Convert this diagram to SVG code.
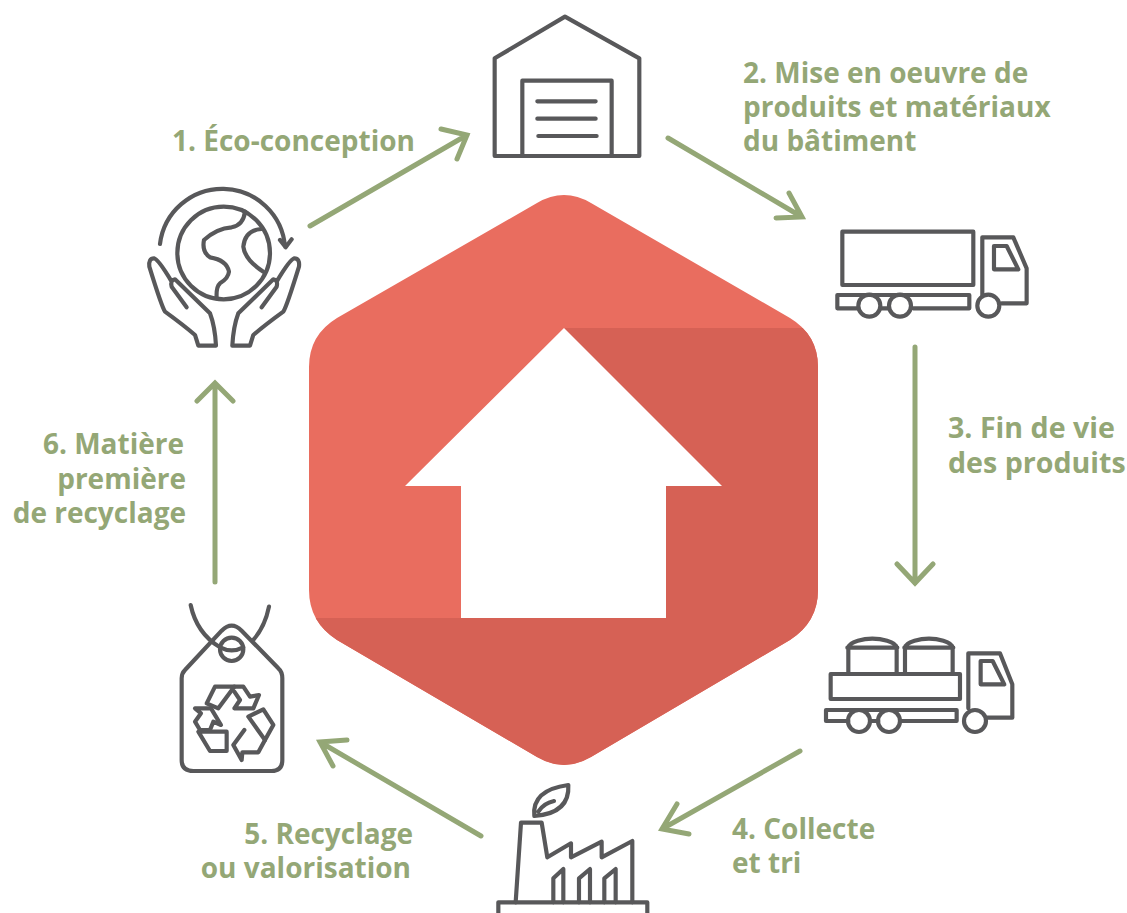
<svg xmlns="http://www.w3.org/2000/svg" width="1127" height="913" viewBox="0 0 1127 913">
<style>
.t{font-family:"Open Sans","Liberation Sans",sans-serif;font-weight:700;font-size:28px;fill:#94a776}
.w{font-size:28.6px}
.e{text-anchor:end}
.i{fill:none;stroke:#58585a;stroke-width:12.5;stroke-linecap:round;stroke-linejoin:round}
.c{fill:none;stroke:#94a776;stroke-width:5;stroke-linecap:round;stroke-linejoin:miter}
</style>
<defs>
<path id="hex" d="M537,203 Q564,187 591,203 L790,318 Q818,335 818,367 L818,590 Q818,622 790,640 L591,757 Q564,773 537,757 L337,640 Q309,622 309,590 L309,367 Q309,335 337,318 Z"/>
<clipPath id="hc"><use href="#hex"/></clipPath>
</defs>
<rect width="1127" height="913" fill="#fff"/>
<g id="center">
<use href="#hex" fill="#e96d5f"/>
<polygon clip-path="url(#hc)" points="564,328 830,328 830,780 300,780 300,618 564,618" fill="#d66155"/>
<polygon points="564,328 722,486 666,486 666,618 461,618 461,486 405,486" fill="#fff"/>
</g>
<g id="connectors" class="c">
<path d="M310,226 L467,135 M441,129 L467,135 L457,159"/>
<path d="M668,138 L802,217 M776,218 L802,217 L789,193"/>
<path d="M915,347 L915,583 M897,564 L915,583 L933,564"/>
<path d="M800,751 L662,829 M677,804 L662,829 L689,834"/>
<path d="M481,836 L320,742 M347,740 L320,742 L333,766"/>
<path d="M215,582 L215,383 M197,401 L215,383 L233,401"/>
</g>
<g id="node-1" class="i" transform="translate(130,170) scale(.3333)">
<circle cx="281" cy="249" r="139"/>
<path d="M90,222 A188.500,188.500 0 0 1 465,230 M450,210 L467,232 L485,208"/>
<path d="M345,125 Q340,165 305,172 Q260,175 222,210 Q215,245 240,262 Q290,270 297,305 Q295,325 270,340 Q258,350 260,385"/>
<path d="M395,177 Q345,180 340,230 Q345,270 400,305"/>
<path d="M170,412 L125,350 Q120,330 135,328 L240,430 Q255,470 258,527 L205,527 L195,495 Q160,465 105,425 Q95,410 58,290 Q55,265 72,265 Q85,268 125,335"/>
<path d="M395,412 L440,350 Q445,330 430,328 L325,430 Q310,470 307,527 L360,527 L370,495 Q405,465 460,425 Q470,410 507,290 Q510,265 493,265 Q480,268 440,335"/>
</g>
<g id="node-2" class="i" transform="translate(480,0) scale(.3333)">
<path d="M44,468 L44,175 L255,50 L478,175 L478,468 Z"/>
<path d="M127,468 V242 H395 V468"/>
<path d="M172,304 H347 M172,356 H347 M175,408 H350"/>
</g>
<g id="node-3" class="i" transform="translate(820,220) scale(.3333)">
<rect x="67" y="35" width="393" height="160"/>
<path d="M115,265 H52 V225 H448 V265 H280 M181,265 H207"/>
<circle cx="148" cy="257" r="33"/><circle cx="240" cy="257" r="33"/><circle cx="505" cy="257" r="33"/>
<path d="M487,225 V52 H580 L620,145 V250 H545"/>
<path d="M522,78 H560 L595,148 H522 Z"/>
</g>
<g id="node-4" class="i" transform="translate(815,625) scale(.3333)">
<path d="M100,145 V68 M245,145 V68 M97,68 H247 M100,68 C102,48 150,41 172,41 C195,41 243,48 245,68"/>
<path d="M270,145 V68 M413,145 V68 M268,68 H415 M270,68 C272,48 320,41 342,41 C364,41 411,48 413,68"/>
<rect x="47" y="147" width="388" height="75"/>
<path d="M100,288 H33 V255 H425 V288 H255 M165,288 H190"/>
<circle cx="132" cy="288" r="33"/><circle cx="222" cy="288" r="33"/><circle cx="480" cy="288" r="33"/>
<path d="M460,250 V85 H555 L592,178 V278 H515"/>
<path d="M497,108 H533 L568,178 H497 Z"/>
</g>
<g id="node-5" class="i" transform="translate(485,770) scale(.3333)">
<rect x="40" y="397" width="447" height="40"/>
<path d="M92,397 L108,158 H170 L187,262 L258,220 V262 L350,215 V262 L442,213 V397"/>
<path d="M205,397 V325 L235,297 V397 M282,397 V325 L315,297 V397 M358,397 V325 L392,297 V397"/>
<path d="M148,138 Q140,60 250,45 Q255,130 148,138 Z M160,125 Q175,100 207,93"/>
</g>
<g id="node-6">
<g class="i" transform="translate(165,590) scale(.3333)">
<path d="M60,240 L170,122 Q200,92 230,122 L340,235 Q352,245 352,265 V510 Q352,543 320,543 H85 Q50,543 50,510 V265 Q50,250 60,240 Z"/>
<circle cx="200" cy="178" r="35"/>
<path d="M77,45 Q95,130 165,172 Q200,190 235,172"/>
<path d="M265,150 Q300,110 312,50"/>
</g>
<g class="i" transform="translate(185,675) scale(.3333)">
<path d="M65,85 L90,35 H148 L100,100 Z"/>
<path d="M148,35 H175 L195,65 L222,60 L205,100 H148 L165,75 L148,50"/>
<path d="M235,103 L265,150 L240,195 L190,125 Z"/>
<path d="M178,165 L145,210 L170,255 L172,232 H220 L240,195"/>
<path d="M30,100 H78 L108,150 L85,140 L75,165 H45 L30,140 L48,115 Z"/>
<path d="M40,170 H125 V228 H75 Z"/>
</g>
</g>
<g id="labels">
<text class="t" x="172" y="150.500">1. Éco-conception</text>
<text class="t" x="743" y="82.500">2. Mise en oeuvre de</text>
<text class="t" x="743" y="116.500">produits et matériaux</text>
<text class="t" x="743" y="150.500">du bâtiment</text>
<text class="t w" x="948" y="437.500">3. Fin de vie</text>
<text class="t w" x="948" y="472.500">des produits</text>
<text class="t" x="732" y="838.500">4. Collecte</text>
<text class="t" x="732" y="872.500">et tri</text>
<text class="t e" x="413" y="843.500">5. Recyclage</text>
<text class="t e" x="411" y="877.500">ou valorisation</text>
<text class="t e" x="184" y="453.500">6. Matière</text>
<text class="t e" x="186" y="488.500">première</text>
<text class="t e" x="186" y="522.500">de recyclage</text>
</g>
</svg>
